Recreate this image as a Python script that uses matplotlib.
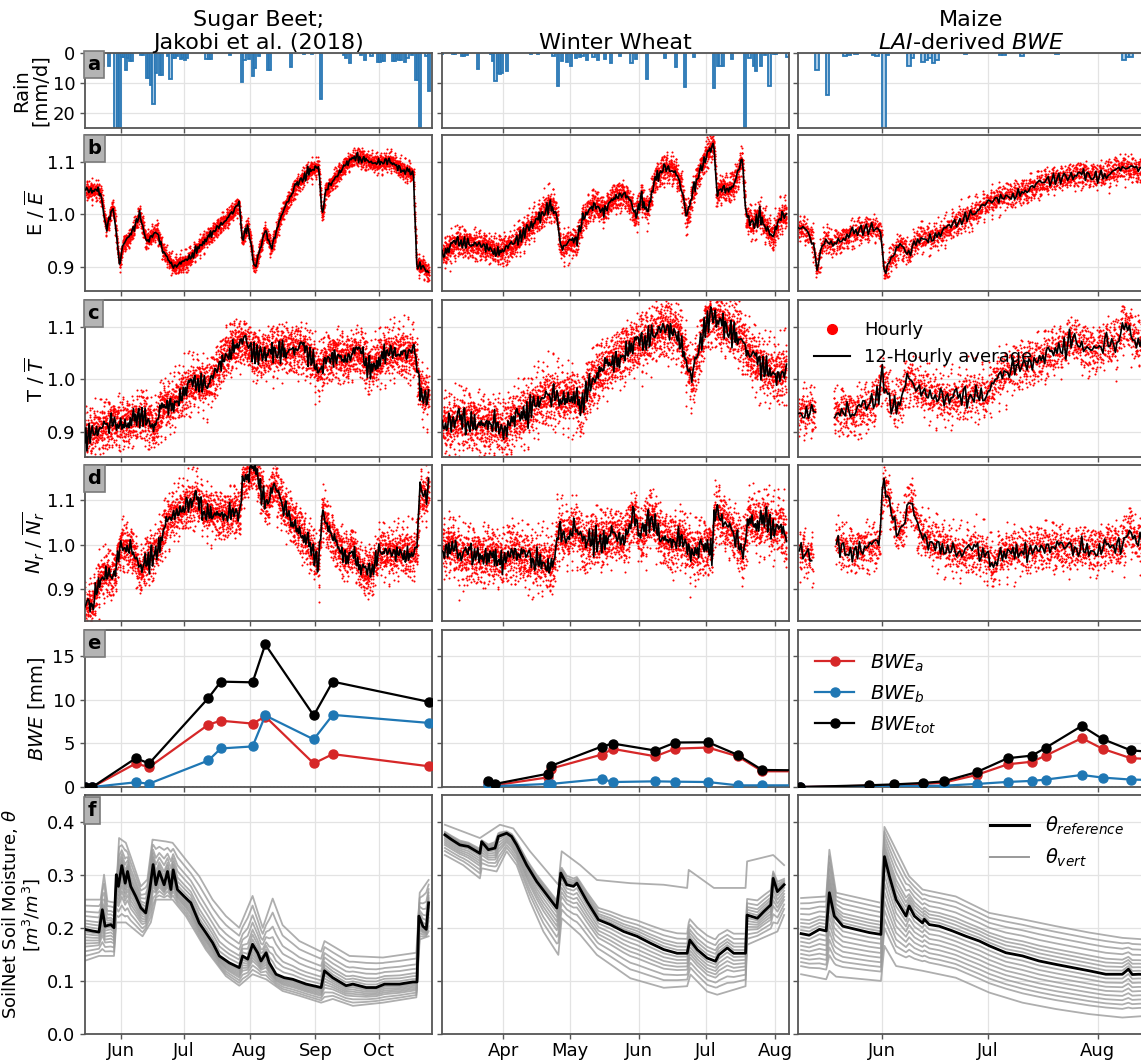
import numpy as np
import matplotlib
matplotlib.use("Agg")
import matplotlib.pyplot as plt
import matplotlib.dates as mdates
from matplotlib.lines import Line2D

plt.rcParams['font.family'] = ['DejaVu Sans']
plt.rcParams['mathtext.fontset'] = 'dejavusans'

# ------------------------------------------------------------------ data
# day offsets are counted from the start date of each crop column
BASE = {'SB': '2015-05-14', 'WW': '2016-03-02', 'MZ': '2017-05-08'}
XLIM = {'SB': (1.1, 165.1), 'WW': (2.5, 158.2), 'MZ': (0.0, 98.3)}
TITLES = ["Sugar Beet;\nJakobi et al. (2018)", "Winter Wheat", "Maize\n$LAI$-derived $BWE$"]

# --- (a) daily rain [mm/d]
SB_RAIN_DAY = [4, 8, 9, 12, 15, 16, 17, 18, 19, 20, 21, 22, 23, 27, 28, 30, 31, 32, 33, 34, 36, 37, 40, 41, 42, 43, 44,
               46, 47, 48, 49, 58, 59, 60, 69, 75, 76, 78, 80, 81, 83, 87, 88, 98, 104, 108, 112, 123, 124, 126, 131,
               133, 136, 139, 140, 141, 142, 146, 147, 148, 149, 150, 152, 153, 155, 157, 158, 159, 162, 163]
SB_RAIN_MM = [0.5, 4.4, 4.4, 4.4, 28, 28, 28, 1.3, 1.3, 5.8, 1.7, 2.8, 2.5, 0.5, 0.5, 8.3, 8.3, 10.5, 17, 6.7, 7.2, 7.2,
              1.1, 8.7, 1.7, 1.7, 1.1, 2.0, 1.8, 2.2, 1.5, 1.9, 1.9, 1.9, 0.5, 9.8, 2.2, 2.0, 7.8, 5.0, 1.1, 5.6, 5.6,
              4.8, 0.3, 0.3, 15.3, 0.5, 1.7, 3.3, 0.5, 2.4, 0.9, 3.1, 3.1, 2.5, 2.5, 2.5, 2.5, 2.0, 2.2, 2.2, 3.1, 1.7,
              0.5, 8.9, 8.9, 28, 1.0, 12.5]
WW_RAIN_DAY = [2, 7, 8, 11, 12, 13, 18, 24, 25, 26, 27, 28, 29, 31, 42, 45, 52, 54, 56, 58, 60, 62, 64, 65, 67, 70, 72,
               75, 78, 82, 87, 89, 94, 102, 107, 111, 115, 124, 126, 127, 128, 132, 138, 140, 142, 143, 145, 147, 149,
               151, 152, 157]
WW_RAIN_MM = [0.2, 0.3, 0.3, 1.1, 1.1, 0.6, 5.2, 0.3, 2.8, 9.4, 6.7, 6.9, 6.7, 6.1, 0.2, 0.2, 0.9, 10.9, 2.8, 3.1, 4.4,
              1.7, 1.3, 1.1, 2.4, 1.3, 2.2, 2.0, 3.3, 1.1, 3.3, 2.0, 8.6, 1.7, 4.7, 11.3, 1.3, 11.7, 4.4, 4.4, 4.4,
              2.0, 26, 1.7, 4.4, 6.1, 4.4, 0.5, 11.1, 0.3, 0.3, 1.3]
MZ_RAIN_DAY = [5, 8, 13, 14, 16, 21, 22, 24, 25, 31, 32, 35, 36, 37, 38, 39, 47, 57, 58, 63, 73, 92, 93, 94]
MZ_RAIN_MM = [5.8, 13.9, 0.9, 0.6, 0.3, 0.6, 1.1, 26, 0.5, 4.4, 1.7, 3.1, 2.2, 1.7, 3.3, 2.4, 0.3, 0.5, 0.5, 0.9,
              0.2, 2.2, 1.3, 1.3]

# --- (b) E / mean(E), 12-hourly average (read points)
SB_E_DAY = [1.4, 7.8, 9.4, 11, 12.6, 14.2, 15.8, 17.4, 19, 22.2, 27, 30.1, 35, 38.1, 42.9, 49.3, 55.7, 62.1, 68.5,
            73.9, 75.5, 78.1, 81.3, 86.1, 89.2, 94, 100.4, 106.8, 111.6, 113.2, 114.8, 119.6, 124.4, 129.2, 132.4,
            138.8, 145.2, 151.5, 156.3, 157.9, 161.1, 163.7]
SB_E = [1.045, 1.045, 1.022, 0.974, 0.99, 1.019, 0.968, 0.903, 0.942, 0.955, 1.0, 0.948, 0.968, 0.929, 0.9, 0.91,
        0.942, 0.968, 0.993, 1.019, 0.948, 0.98, 0.897, 0.968, 0.936, 1.0, 1.051, 1.083, 1.09, 0.993, 1.045, 1.07,
        1.096, 1.109, 1.105, 1.096, 1.102, 1.083, 1.077, 0.903, 0.90, 0.885]
WW_E_DAY = [2.6, 9.6, 15.7, 21.8, 27.9, 34, 40, 46.1, 50.7, 53.7, 55.8, 58.3, 62.8, 65.9, 70.4, 75, 79.5, 84.1, 87.1,
            89.3, 91.7, 94.7, 97.8, 102.3, 106.9, 109.9, 112.4, 114.5, 117.5, 122.1, 124.5, 125.7, 128.2, 131.2,
            134.3, 137.3, 138.8, 141.9, 144.9, 147.9, 151, 154, 157.1]
WW_E = [0.923, 0.948, 0.942, 0.939, 0.929, 0.939, 0.968, 0.993, 1.019, 1.006, 0.935, 0.942, 0.948, 0.993, 1.019,
        1.006, 1.032, 1.038, 1.019, 0.993, 1.032, 1.006, 1.064, 1.089, 1.083, 1.051, 0.987, 1.032, 1.077, 1.122,
        1.134, 1.038, 1.051, 1.045, 1.064, 1.109, 0.993, 0.98, 1.0, 0.974, 0.955, 0.993, 1.0]
MZ_E_DAY = [0, 2.5, 4.4, 5.3, 7.3, 8.2, 9.2, 11.1, 15, 18.8, 21.7, 23.6, 24.6, 26.5, 29.4, 31.3, 34.2, 38, 41.9, 45.7,
            49.6, 53.4, 57.3, 61.1, 65, 68.8, 72.7, 76.5, 80.3, 84.2, 88, 91.9, 95.9, 98.5]
MZ_E = [0.974, 0.968, 0.948, 0.891, 0.948, 0.955, 0.942, 0.948, 0.961, 0.971, 0.974, 0.968, 0.884, 0.916, 0.942,
        0.923, 0.955, 0.955, 0.968, 0.987, 1.0, 1.019, 1.032, 1.038, 1.045, 1.057, 1.067, 1.07, 1.077, 1.073, 1.077,
        1.089, 1.083, 1.08]

# --- (c) T / mean(T)
SB_T_DAY = [1.0, 4.6, 9.4, 14.2, 19, 23.8, 28.5, 31.7, 34, 35.9, 38.1, 41.3, 44.5, 49.3, 54.1, 58.9, 62.1, 65.3, 68.5,
            71.7, 76.5, 79.7, 84.5, 89.2, 94, 98.8, 103.6, 108.4, 111.6, 114.8, 119.6, 124.4, 129.2, 132.4, 135.6,
            138.8, 143.6, 148.4, 153.1, 157.3, 158.9, 161.1, 163.7]
SB_T = [0.891, 0.897, 0.907, 0.917, 0.914, 0.92, 0.93, 0.917, 0.904, 0.93, 0.949, 0.949, 0.962, 0.981, 0.994, 0.987,
        1.006, 1.032, 1.051, 1.064, 1.07, 1.051, 1.045, 1.051, 1.058, 1.054, 1.058, 1.038, 1.013, 1.038, 1.045,
        1.038, 1.051, 1.042, 1.019, 1.032, 1.051, 1.051, 1.048, 1.045, 0.987, 0.968, 0.968]
WW_T_DAY = [2.6, 8.1, 12.7, 17.2, 21.8, 26.4, 30.3, 34, 38.5, 43.1, 47.6, 52.2, 56.7, 61.3, 65, 67.4, 71.9, 76.5, 81.1,
            85.6, 90.2, 94.7, 99.3, 103.9, 108.4, 111.5, 114.5, 116.6, 120.6, 123.6, 126.7, 131.2, 135.8, 140.3,
            144.9, 149.5, 154, 157.1]
WW_T = [0.91, 0.917, 0.923, 0.917, 0.91, 0.917, 0.898, 0.923, 0.93, 0.949, 0.962, 0.968, 0.962, 0.968, 0.942, 0.981,
        1.006, 1.026, 1.038, 1.058, 1.064, 1.077, 1.089, 1.096, 1.09, 1.045, 0.994, 1.032, 1.102, 1.122, 1.109,
        1.096, 1.083, 1.045, 1.026, 1.013, 1.006, 1.019]
MZ_T_DAY = [0, 3.4, 5.0, 7.5, 10.2, 13, 15.9, 18.8, 21.7, 24, 26.5, 28.4, 31.3, 34.2, 38, 41.9, 45.7, 49.6, 53.4,
            56.3, 59.2, 63, 66.9, 70.7, 74.6, 77.5, 80.3, 84.2, 87.1, 90, 92.8, 95.9, 98.5]
MZ_T = [0.936, 0.939, 0.936, np.nan, 0.936, 0.939, 0.933, 0.942, 0.955, 1.006, 0.955, 0.949, 1.0, 0.981, 0.968,
        0.962, 0.962, 0.974, 0.968, 1.0, 1.013, 1.026, 1.032, 1.045, 1.058, 1.077, 1.064, 1.051, 1.07, 1.064, 1.109,
        1.07, 1.07]

# --- (d) Nr / mean(Nr)
SB_N_DAY = [1.0, 4.6, 7.8, 11, 13.5, 15.8, 18, 20.6, 23.8, 27, 30.1, 33.3, 36.5, 38.1, 41.3, 46.1, 50.9, 54.1, 57.3,
            62.1, 66.9, 71.7, 74.2, 75.5, 78.1, 81.3, 84.5, 87, 90.2, 94, 98.8, 103.6, 108.4, 111.6, 113.2, 116.4,
            119.6, 124.4, 127.6, 130.8, 134, 137.2, 140.4, 145.2, 150, 154.7, 157.9, 159.5, 161.8, 163.7]
SB_N = [0.856, 0.864, 0.917, 0.94, 0.925, 0.948, 1.001, 0.993, 0.986, 0.932, 0.963, 0.978, 1.001, 1.031, 1.062, 1.077,
        1.092, 1.1, 1.077, 1.069, 1.062, 1.077, 1.062, 1.145, 1.153, 1.176, 1.123, 1.085, 1.138, 1.092, 1.054, 1.024,
        0.986, 0.955, 1.077, 1.031, 1.001, 0.97, 0.993, 0.948, 0.932, 0.948, 0.986, 0.978, 0.986, 0.978, 0.986,
        1.123, 1.1, 1.13]
WW_N_DAY = [2.6, 6.6, 11.2, 15.7, 20.3, 24.8, 29.4, 34, 38.5, 43.1, 47.6, 52.2, 54.6, 58.3, 62.8, 65.9, 70.4, 75,
            79.5, 84.1, 88.7, 91.7, 96.3, 100.8, 105.4, 109.9, 114.5, 119.1, 123.6, 125.1, 129.7, 134.3, 137.3, 140.3,
            144.9, 147.9, 151, 154, 157.1]
WW_N = [0.986, 1.001, 0.97, 0.978, 0.97, 0.978, 0.963, 0.986, 0.97, 0.963, 0.963, 0.948, 1.031, 1.016, 1.039, 0.993,
        1.016, 1.009, 1.024, 1.009, 1.069, 1.009, 1.069, 1.016, 1.001, 1.016, 0.978, 0.993, 0.993, 1.077, 1.046,
        1.016, 0.978, 1.062, 1.039, 1.062, 1.031, 1.046, 1.009]
MZ_N_DAY = [0.5, 2.5, 4.4, 7.5, 10.7, 13, 15.9, 18.8, 21.7, 23.2, 24.2, 25.5, 27.5, 29.4, 31.9, 34.2, 37.1, 40, 43.8,
            46.7, 49.6, 53.4, 55.3, 57.3, 61.1, 65, 68.8, 72.7, 76.5, 80.3, 84.2, 88, 91.9, 93.8, 95.9, 98.5]
MZ_N = [0.986, 0.978, 0.963, np.nan, 1.009, 0.993, 0.986, 0.993, 0.993, 1.001, 1.138, 1.115, 1.039, 1.024, 1.107,
        1.031, 1.009, 1.001, 0.986, 0.978, 0.986, 0.978, 0.948, 0.978, 0.986, 0.986, 0.993, 0.993, 0.986, 0.993,
        0.986, 1.001, 0.993, 1.039, 1.009, 1.0]

# scatter spread of hourly values around the 12-hourly average
SPREAD_E = [0.008, 0.013, 0.012]
SPREAD_T = [0.022, 0.026, 0.022]
SPREAD_N = [0.025, 0.030, 0.025]
# fixed hand-typed jitter pattern for the hourly cloud
PATTERN = [0.12, -0.85, 1.43, -0.31, 0.67, -1.72, 0.05, 0.98, -0.44, 2.21, -1.08, 0.36, -0.12, 1.15, -0.63, 0.29,
           -2.05, 0.81, -0.19, 0.54, 1.67, -0.95, 0.41, -0.27, 0.73, -1.36, 0.08, 1.92, -0.58, -0.02, 0.88, -1.19,
           0.33, -0.71, 1.24, -0.38, 0.61, -2.43, 0.17, 1.05, -0.49, 0.22, -0.89, 1.51, -0.15, 0.46, -1.55, 0.94,
           -0.07, 0.69, -1.01, 2.6, -0.33]

# --- (e) BWE [mm]
SB_BWE_DAY = [1.1, 4.6, 25.1, 31.4, 59.4, 65.3, 80.3, 86.3, 109.2, 118.2, 163.5]
SB_BWE_A = [0, 0, 2.7, 2.27, 7.15, 7.6, 7.27, 8.08, 2.7, 3.77, 2.38]
SB_BWE_B = [0, 0, 0.54, 0.38, 3.04, 4.42, 4.65, 8.2, 5.46, 8.27, 7.35]
SB_BWE_TOT = [0, 0, 3.3, 2.7, 10.2, 12.08, 12.0, 16.35, 8.2, 12.08, 9.77]
WW_BWE_DAY = [23.3, 26.3, 50.2, 51.3, 74.2, 79.2, 98.2, 107.2, 121.9, 135.2, 146.2, 168]
WW_BWE_A = [0.45, 0.2, 1.11, 2.1, 3.72, 4.37, 3.52, 4.4, 4.52, 3.52, 1.8, 1.8]
WW_BWE_B = [0.25, 0.1, 0.35, 0.35, 0.92, 0.57, 0.65, 0.61, 0.57, 0.19, 0.19, 0.19]
WW_BWE_TOT = [0.73, 0.35, 1.53, 2.41, 4.64, 4.98, 4.18, 5.1, 5.13, 3.68, 1.95, 1.9]
MZ_BWE_DAY = [0.8, 20.3, 27.4, 35.4, 41.4, 50.7, 59.5, 66.4, 70.3, 80.5, 86.4, 94.4, 101]
MZ_BWE_A = [0, 0.15, 0.23, 0.35, 0.5, 1.38, 2.6, 2.9, 3.6, 5.6, 4.38, 3.3, 3.2]
MZ_BWE_B = [0, 0.05, 0.08, 0.12, 0.15, 0.35, 0.58, 0.7, 0.85, 1.38, 1.08, 0.85, 0.8]
MZ_BWE_TOT = [0, 0.2, 0.3, 0.46, 0.65, 1.7, 3.3, 3.6, 4.5, 7.0, 5.5, 4.2, 4.0]

# --- (f) soil moisture: reference and envelope of the vertical profiles
SB_REF_DAY = [1.1, 4.6, 7.7, 9.3, 10.6, 13.3, 14.8, 15.9, 16.9, 18.5, 20.1, 21.2, 22.7, 25.1, 27.5, 29.8, 31.7, 33.3,
              34.6, 36.2, 38.5, 40.1, 41.7, 42.8, 44.8, 48, 51.1, 55.1, 58.2, 61.4, 64.6, 69.3, 74, 75.6, 78, 80.3,
              82.7, 84.3, 86.7, 88.2, 91.4, 95.3, 99.3, 105.6, 112.7, 114.3, 118.2, 124.5, 127.7, 134, 138.7, 142.7,
              149.8, 156.1, 158, 158.9, 160.8, 162.4, 163.5]
SB_REF = [0.197, 0.194, 0.192, 0.234, 0.203, 0.206, 0.2, 0.3, 0.278, 0.317, 0.284, 0.306, 0.278, 0.259, 0.2375, 0.228,
          0.272, 0.319, 0.281, 0.306, 0.281, 0.306, 0.272, 0.309, 0.272, 0.259, 0.247, 0.209, 0.191, 0.172, 0.147,
          0.134, 0.125, 0.147, 0.141, 0.169, 0.153, 0.1375, 0.153, 0.134, 0.1125, 0.106, 0.103, 0.094, 0.0875, 0.119,
          0.106, 0.091, 0.094, 0.0875, 0.0875, 0.094, 0.094, 0.098, 0.098, 0.222, 0.203, 0.197, 0.247]
SB_UP_DAY = [1.1, 8.5, 10.1, 11.7, 15.6, 17.2, 20.4, 22.7, 27.5, 30.6, 33, 39.3, 42.5, 48.8, 55.1, 61.4, 67.7, 74,
             80.3, 85.1, 89.8, 94.5, 102.4, 112.7, 114.3, 126.1, 141.9, 157.7, 159.3, 163.5]
SB_UP = [0.253, 0.253, 0.3, 0.25, 0.247, 0.369, 0.36, 0.334, 0.278, 0.291, 0.366, 0.3625, 0.36, 0.328, 0.297, 0.253,
         0.222, 0.2, 0.26, 0.2, 0.255, 0.205, 0.175, 0.155, 0.175, 0.147, 0.144, 0.153, 0.266, 0.29]
SB_LO_DAY = [1.1, 7.7, 14.8, 15.9, 20.4, 28.3, 32.2, 34.6, 42.5, 48.8, 58.2, 67.7, 74, 80.3, 86.7, 94.5, 102.4, 112.7,
             118.2, 127.7, 141.9, 157.7, 159.3, 163.5]
SB_LO = [0.138, 0.147, 0.147, 0.21, 0.21, 0.184, 0.21, 0.253, 0.253, 0.222, 0.159, 0.109, 0.091, 0.1125, 0.103, 0.081,
         0.072, 0.059, 0.066, 0.053, 0.059, 0.069, 0.178, 0.184]
WW_REF_DAY = [3.8, 6.8, 10.5, 14.3, 19.5, 20.3, 23.3, 26.3, 27.8, 31.5, 33.7, 36, 40.5, 45, 49.5, 54, 55.8, 58.5,
              61.5, 63, 67.5, 72.7, 78, 84, 90, 96, 102, 108, 112.5, 113.7, 117, 121.5, 125.2, 126.7, 130.5, 133.4,
              138.7, 139.4, 144, 147, 150, 151.1, 153, 156]
WW_REF = [0.375, 0.366, 0.356, 0.353, 0.34, 0.362, 0.347, 0.35, 0.372, 0.378, 0.372, 0.356, 0.318, 0.287, 0.262,
          0.237, 0.303, 0.281, 0.278, 0.284, 0.25, 0.215, 0.206, 0.193, 0.184, 0.171, 0.159, 0.152, 0.152, 0.177,
          0.159, 0.143, 0.137, 0.149, 0.162, 0.152, 0.152, 0.224, 0.218, 0.231, 0.243, 0.293, 0.268, 0.281]
WW_UP_DAY = [3.8, 19.5, 28.5, 34.5, 42, 54.7, 56.2, 64.5, 72, 87, 102, 112.5, 113.2, 124.5, 138.7, 139.4, 151.1, 156]
WW_UP = [0.394, 0.369, 0.394, 0.387, 0.344, 0.281, 0.344, 0.318, 0.29, 0.284, 0.281, 0.275, 0.309, 0.275, 0.275,
         0.325, 0.337, 0.318]
WW_LO_DAY = [3.8, 12, 19.5, 20.3, 27, 31.5, 36, 42, 48, 54.7, 56.2, 64.5, 72, 87, 102, 112.5, 114, 121.5, 126, 138.7,
             139.4, 153, 156]
WW_LO = [0.337, 0.318, 0.293, 0.312, 0.306, 0.344, 0.318, 0.25, 0.193, 0.149, 0.218, 0.187, 0.149, 0.105, 0.087,
         0.09, 0.112, 0.08, 0.074, 0.09, 0.168, 0.193, 0.224]
MZ_REF_DAY = [1, 3.3, 6.2, 8.1, 9, 10.4, 12.8, 16.5, 20.3, 23.6, 24.6, 26, 27.9, 30.7, 31.6, 33.1, 35.4, 35.9, 37.3,
              40.1, 43.9, 47.7, 51.5, 54.3, 59, 63.7, 68.4, 73.2, 77.9, 82.6, 87.3, 92, 93.7, 94.8, 96.7, 98.5]
MZ_REF = [0.189, 0.186, 0.197, 0.194, 0.266, 0.222, 0.203, 0.197, 0.191, 0.1875, 0.334, 0.297, 0.253, 0.222, 0.241,
          0.222, 0.209, 0.216, 0.206, 0.203, 0.194, 0.184, 0.175, 0.166, 0.153, 0.147, 0.1375, 0.131, 0.125, 0.119,
          0.1125, 0.1125, 0.122, 0.112, 0.1125, 0.112]
MZ_UP_DAY = [1, 8.1, 9, 10.9, 23.6, 24.6, 26, 31.6, 35.4, 44.8, 54.3, 63.7, 73.2, 82.6, 92, 98.5]
MZ_UP = [0.256, 0.259, 0.347, 0.266, 0.247, 0.39, 0.372, 0.297, 0.272, 0.259, 0.228, 0.216, 0.203, 0.191, 0.181, 0.178]
MZ_LO_DAY = [1, 8.1, 9, 10.9, 23.6, 24.6, 27.9, 35.4, 44.8, 54.3, 63.7, 73.2, 82.6, 92, 98.5]
MZ_LO = [0.1125, 0.103, 0.119, 0.108, 0.1, 0.166, 0.128, 0.119, 0.106, 0.078, 0.059, 0.047, 0.0375, 0.031, 0.034]
# relative positions of the individual profile curves between reference and envelope
UP_FRACS = {'SB': [1.0, 0.8, 0.6, 0.45, 0.3, 0.2, 0.1],
            'WW': [1.0, 0.3, 0.22, 0.15, 0.1, 0.05],
            'MZ': [1.0, 0.85, 0.7, 0.55, 0.4, 0.3, 0.2, 0.1]}
LO_FRACS = {'SB': [1.0, 0.85, 0.7, 0.55, 0.45, 0.35, 0.25, 0.15, 0.07],
            'WW': [1.0, 0.8, 0.65, 0.5, 0.4, 0.3, 0.2, 0.1],
            'MZ': [1.0, 0.8, 0.7, 0.6, 0.5, 0.4, 0.3, 0.2, 0.1]}

RAIN = {'SB': (SB_RAIN_DAY, SB_RAIN_MM), 'WW': (WW_RAIN_DAY, WW_RAIN_MM), 'MZ': (MZ_RAIN_DAY, MZ_RAIN_MM)}
ERAT = {'SB': (SB_E_DAY, SB_E), 'WW': (WW_E_DAY, WW_E), 'MZ': (MZ_E_DAY, MZ_E)}
TRAT = {'SB': (SB_T_DAY, SB_T), 'WW': (WW_T_DAY, WW_T), 'MZ': (MZ_T_DAY, MZ_T)}
NRAT = {'SB': (SB_N_DAY, SB_N), 'WW': (WW_N_DAY, WW_N), 'MZ': (MZ_N_DAY, MZ_N)}
BWE = {'SB': (SB_BWE_DAY, SB_BWE_A, SB_BWE_B, SB_BWE_TOT),
       'WW': (WW_BWE_DAY, WW_BWE_A, WW_BWE_B, WW_BWE_TOT),
       'MZ': (MZ_BWE_DAY, MZ_BWE_A, MZ_BWE_B, MZ_BWE_TOT)}
SOIL = {'SB': (SB_REF_DAY, SB_REF, SB_UP_DAY, SB_UP, SB_LO_DAY, SB_LO),
        'WW': (WW_REF_DAY, WW_REF, WW_UP_DAY, WW_UP, WW_LO_DAY, WW_LO),
        'MZ': (MZ_REF_DAY, MZ_REF, MZ_UP_DAY, MZ_UP, MZ_LO_DAY, MZ_LO)}
COLS = ['SB', 'WW', 'MZ']

# ------------------------------------------------------------------ helpers
P53 = np.array(PATTERN)
P47 = P53[:47]


def noise(n, off):
    i = np.arange(n)
    return 0.75 * P53[(7 * i + off) % 53] + 0.65 * P47[(3 * i + 2 * off) % 47]


def dn(col, days):
    return mdates.date2num(np.datetime64(BASE[col])) + np.asarray(days, float)


W, H = 1141, 1061
fig = plt.figure(figsize=(W / 100, H / 100), dpi=100)
COL_LEFT = [85, 442, 797.6]
COL_W = 347
ROWS = [(53, 128), (135, 291), (300, 457), (465, 621), (630, 787), (795, 1034)]
SPINE = '#555555'
LETTERS = 'abcdef'

axes = [[None] * 3 for _ in range(6)]
for r, (t, b) in enumerate(ROWS):
    for c in range(3):
        ax = fig.add_axes([COL_LEFT[c] / W, 1 - b / H, COL_W / W, (b - t) / H])
        axes[r][c] = ax
        for s in ax.spines.values():
            s.set_color(SPINE)
            s.set_linewidth(1.3)
        ax.grid(True, color='#e3e3e3', lw=0.9)
        ax.set_axisbelow(True)
        ax.tick_params(direction='out', length=3.5, width=1, color=SPINE, labelsize=13)
        ax.tick_params(axis='x', pad=2.5)
        ax.set_xlim(*dn(COLS[c], XLIM[COLS[c]]))
        ax.xaxis.set_major_locator(mdates.MonthLocator())
        ax.xaxis.set_major_formatter(mdates.DateFormatter('%b'))
        if r < 5:
            ax.tick_params(labelbottom=False)
        if c > 0:
            ax.tick_params(labelleft=False)
        else:
            ax.text(0.007, 0.975, LETTERS[r], transform=ax.transAxes, fontsize=14, fontweight='bold',
                    va='top', ha='left', zorder=10,
                    bbox=dict(boxstyle='square,pad=0.2', fc='#b4b4b4', ec='#7a7a7a', lw=1.2))

for c, col in enumerate(COLS):
    axes[0][c].set_title(TITLES[c], fontsize=16, pad=3)

    # (a) rain
    ax = axes[0][c]
    d, mm = RAIN[col]
    ax.bar(dn(col, d), mm, width=1.0, align='edge', color='#a9cae5', edgecolor='#2a78b5', lw=1.3, zorder=2)
    ax.set_ylim(25, 0)
    ax.set_yticks([0, 10, 20])

    # (b,c,d) ratios
    for r, data, spread, lim in [(1, ERAT, SPREAD_E, (0.854, 1.151)), (2, TRAT, SPREAD_T, (0.852, 1.151)),
                                 (3, NRAT, SPREAD_N, (0.828, 1.18))]:
        ax = axes[r][c]
        days, vals = data[col]
        days = np.asarray(days, float)
        vals = np.asarray(vals, float)
        th = np.arange(days[0], days[-1], 1 / 24)
        vh = np.interp(th, days, vals) + spread[c] * noise(th.size, 3 * r + c)
        ax.scatter(dn(col, th), vh, s=2.2, color='red', linewidths=0, zorder=2)
        t12 = np.arange(days[0], days[-1] + 1e-9, 0.5)
        v12 = np.interp(t12, days, vals) + 0.45 * spread[c] * noise(t12.size, 11 * r + 5 * c + 1)
        ax.plot(dn(col, t12), v12, color='k', lw=1.2, zorder=3)
        ax.set_ylim(*lim)
        ax.set_yticks([0.9, 1.0, 1.1])

    # (e) BWE
    ax = axes[4][c]
    d, a, bb, tot = BWE[col]
    ax.axhline(0, color='k', ls=':', lw=1, zorder=1)
    ax.plot(dn(col, d), a, '-o', color='#d62728', lw=1.6, ms=6.5, label='$BWE_a$', zorder=3)
    ax.plot(dn(col, d), bb, '-o', color='#1f77b4', lw=1.6, ms=6.5, label='$BWE_b$', zorder=4)
    ax.plot(dn(col, d), tot, '-o', color='k', lw=1.6, ms=6.5, label='$BWE_{tot}$', zorder=5)
    ax.set_ylim(0, 18)
    ax.set_yticks([0, 5, 10, 15])

    # (f) soil moisture
    ax = axes[5][c]
    rd, rv, ud, uv, ld, lv = SOIL[col]
    grid = np.unique(np.concatenate([rd, ud, ld]))
    ref = np.interp(grid, rd, rv)
    up = np.interp(grid, ud, uv)
    lo = np.interp(grid, ld, lv)
    for f in UP_FRACS[col]:
        ax.plot(dn(col, grid), ref + f * (up - ref), color='#9a9a9a', lw=1.3, alpha=0.8, zorder=2)
    for f in LO_FRACS[col]:
        ax.plot(dn(col, grid), ref + f * (lo - ref), color='#9a9a9a', lw=1.3, alpha=0.8, zorder=2)
    ax.plot(dn(col, rd), rv, color='k', lw=2.0, zorder=4)
    ax.set_ylim(0, 0.45)
    ax.set_yticks([0.0, 0.1, 0.2, 0.3, 0.4])

# labels (anchored at their right-hand edge)
LABELS = ['Rain\n[mm/d]', r'E / $\overline{E}$', r'T / $\overline{T}$', r'$N_r$ / $\overline{N_r}$',
          r'$BWE$ [mm]', 'SoilNet Soil Moisture, $\\theta$\n[$m^3/m^3$]']
LABEL_X = [-0.10, -0.11, -0.11, -0.11, -0.11, -0.125]
for r in range(6):
    ax = axes[r][0]
    ax.set_ylabel(LABELS[r], fontsize=14 if r < 5 else 13, linespacing=1.0)
    ax.yaxis.set_label_coords(LABEL_X[r], 0.5)

# legends
h = [Line2D([], [], marker='o', color='red', ls='', ms=7),
     Line2D([], [], color='k', lw=1.5)]
axes[2][2].legend(h, ['Hourly', '12-Hourly average'], loc='upper left', frameon=False, fontsize=13,
                  bbox_to_anchor=(0.0, 0.97))
axes[4][2].legend(loc='upper left', frameon=False, fontsize=14, bbox_to_anchor=(0.0, 0.97))
h2 = [Line2D([], [], color='k', lw=2.2), Line2D([], [], color='#9a9a9a', lw=1.4)]
axes[5][2].legend(h2, [r'$\theta_{reference}$', r'$\theta_{vert}$'], loc='upper right', frameon=False, fontsize=14,
                  bbox_to_anchor=(0.99, 0.99))

fig.savefig('out.png', dpi=100)
